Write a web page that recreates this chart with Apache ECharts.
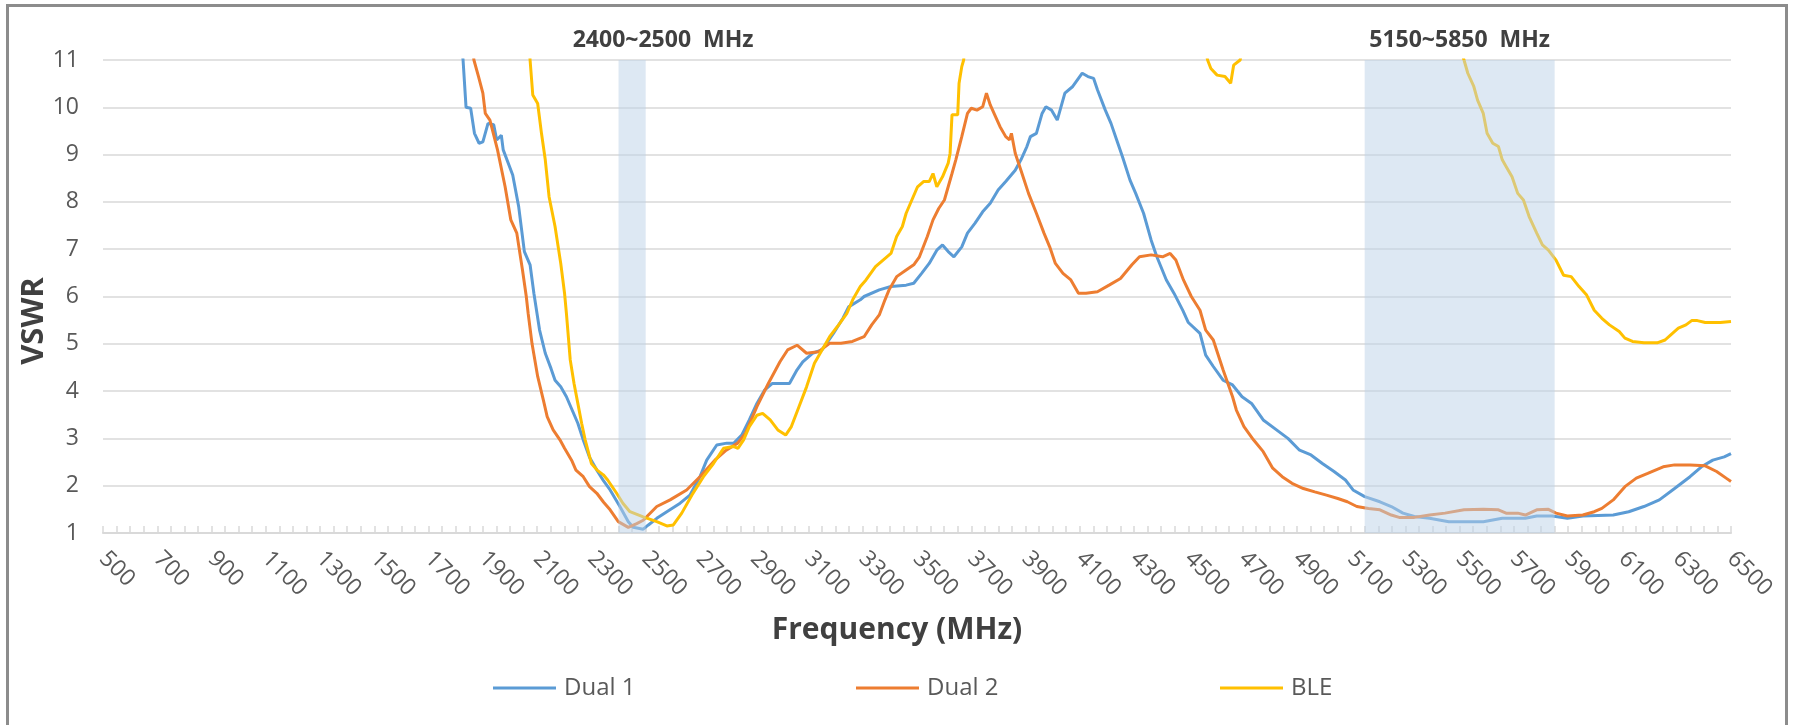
<!DOCTYPE html>
<html>
<head>
<meta charset="utf-8">
<script src="https://cdn.jsdelivr.net/npm/echarts@6/dist/echarts.min.js"></script>
<style>
  html, body { margin: 0; padding: 0; background: #ffffff; }
  #chart { position: absolute; left: 0; top: 0; width: 1799px; height: 725px; }
  #frame { position: absolute; left: 6px; top: 4px; width: 1782px; height: 740px;
           border: 3px solid #8c8c8c; pointer-events: none; box-sizing: border-box; }
</style>
</head>
<body>
<div id="chart"></div>
<div id="frame"></div>
<script>
// ---- data (MHz, VSWR) ----
const seriesNames = ['Dual 1', 'Dual 2', 'BLE'];
const seriesColors = ['#5B9BD5', '#ED7D31', '#FFC000'];

const dual1Freq = [1810,1827,1838,1855,1869,1886,1900,1919,1940,1951,1968,1975,2010,2032,2053,2074,2088,2109,2130,2151,2166,2187,2208,2229,2250,2271,2293,2320,2345,2369,2405,2436,2454,2491,2510,2541,2578,2627,2663,2700,2725,2762,2799,2825,2854,2882,2910,2938,2966,2995,3030,3058,3079,3115,3150,3192,3227,3248,3291,3305,3361,3404,3460,3488,3517,3545,3573,3594,3615,3636,3665,3686,3714,3742,3770,3799,3827,3862,3883,3905,3918,3940,3961,3975,3996,4017,4045,4074,4109,4130,4151,4165,4194,4215,4236,4257,4285,4306,4335,4363,4384,4419,4447,4480,4500,4543,4564,4592,4628,4663,4698,4733,4776,4825,4867,4910,4952,4994,5037,5079,5107,5150,5206,5248,5291,5333,5389,5460,5530,5587,5657,5742,5784,5841,5897,5954,6066,6123,6179,6236,6292,6349,6391,6433,6475,6500];
const dual1Vswr = [12.0,11.0,10.0,9.98,9.45,9.24,9.27,9.66,9.63,9.31,9.41,9.10,8.57,7.90,6.95,6.67,6.07,5.29,4.80,4.48,4.23,4.09,3.88,3.60,3.32,2.95,2.60,2.33,2.10,1.91,1.56,1.24,1.12,1.08,1.17,1.31,1.45,1.63,1.80,2.19,2.54,2.86,2.90,2.90,3.07,3.39,3.74,4.02,4.16,4.16,4.16,4.45,4.62,4.80,4.87,5.22,5.54,5.78,5.93,6.00,6.14,6.21,6.24,6.28,6.49,6.70,6.98,7.09,6.95,6.84,7.05,7.34,7.55,7.79,7.97,8.25,8.43,8.67,8.89,9.17,9.38,9.45,9.87,10.01,9.94,9.73,10.30,10.44,10.72,10.65,10.61,10.37,9.94,9.66,9.31,8.96,8.46,8.18,7.76,7.19,6.84,6.35,6.07,5.70,5.45,5.22,4.76,4.52,4.23,4.13,3.88,3.74,3.39,3.18,3.00,2.75,2.65,2.47,2.30,2.12,1.91,1.77,1.66,1.56,1.42,1.35,1.31,1.24,1.24,1.24,1.31,1.31,1.36,1.36,1.31,1.36,1.38,1.45,1.56,1.70,1.94,2.19,2.40,2.54,2.61,2.68];

const dual2Freq = [1850,1867,1884,1900,1909,1926,1954,1982,2003,2025,2046,2060,2067,2081,2102,2123,2137,2159,2184,2201,2227,2243,2270,2293,2320,2345,2369,2399,2436,2467,2491,2541,2590,2651,2700,2755,2797,2839,2868,2910,2952,2995,3023,3058,3093,3136,3178,3220,3262,3305,3333,3361,3382,3397,3425,3460,3488,3509,3538,3559,3580,3601,3615,3629,3643,3665,3686,3700,3721,3742,3756,3770,3784,3806,3827,3841,3848,3862,3883,3911,3940,3968,3989,4010,4038,4067,4095,4123,4165,4208,4250,4292,4320,4363,4405,4433,4454,4482,4511,4543,4564,4592,4628,4663,4677,4705,4740,4776,4811,4846,4882,4924,4966,5009,5051,5086,5121,5164,5206,5248,5277,5333,5389,5446,5516,5587,5643,5671,5714,5742,5784,5827,5855,5897,5954,5996,6024,6066,6109,6151,6193,6250,6292,6349,6405,6447,6482,6500];
const dual2Vswr = [12.0,11.0,10.65,10.30,9.87,9.73,9.10,8.32,7.62,7.34,6.56,6.00,5.64,5.01,4.31,3.81,3.46,3.18,2.97,2.79,2.54,2.33,2.19,1.98,1.84,1.65,1.49,1.24,1.12,1.20,1.27,1.56,1.70,1.91,2.19,2.54,2.75,2.90,3.11,3.67,4.16,4.62,4.87,4.97,4.80,4.83,5.01,5.01,5.05,5.15,5.40,5.61,5.93,6.14,6.42,6.56,6.67,6.84,7.27,7.62,7.86,8.04,8.32,8.60,8.89,9.38,9.87,9.98,9.94,10.01,10.30,10.05,9.87,9.59,9.38,9.31,9.45,9.03,8.67,8.18,7.76,7.34,7.05,6.70,6.49,6.35,6.07,6.07,6.10,6.24,6.38,6.67,6.84,6.88,6.84,6.91,6.77,6.35,6.00,5.71,5.29,5.08,4.45,3.88,3.60,3.25,2.97,2.72,2.37,2.19,2.05,1.94,1.87,1.80,1.73,1.66,1.56,1.52,1.49,1.38,1.33,1.33,1.38,1.42,1.49,1.50,1.49,1.42,1.42,1.38,1.49,1.50,1.42,1.36,1.38,1.45,1.52,1.70,1.98,2.16,2.26,2.40,2.44,2.44,2.42,2.30,2.16,2.09];

const bleFreq = [2060,2074,2084,2102,2116,2130,2144,2166,2187,2201,2208,2222,2236,2250,2264,2277,2300,2321,2344,2360,2393,2416,2442,2491,2541,2578,2602,2633,2670,2713,2750,2787,2823,2840,2861,2882,2910,2931,2959,2987,3016,3037,3065,3093,3122,3150,3178,3206,3241,3263,3291,3312,3347,3375,3404,3425,3446,3460,3481,3502,3524,3545,3559,3573,3594,3615,3622,3629,3650,3655,3665,3672,3690,4000,4300,4500,4560,4571,4583,4606,4635,4656,4667,4691,4710,5000,5300,5490,5516,5530,5552,5566,5587,5601,5622,5643,5657,5671,5693,5714,5735,5756,5784,5805,5827,5855,5883,5911,5940,5968,5996,6024,6052,6088,6109,6137,6179,6228,6257,6278,6306,6334,6355,6376,6405,6461,6500];
const bleVswr = [12.5,11.0,10.26,10.08,9.45,8.89,8.11,7.48,6.70,6.07,5.64,4.66,4.16,3.74,3.32,2.97,2.47,2.33,2.23,2.12,1.84,1.63,1.45,1.34,1.24,1.15,1.17,1.42,1.80,2.19,2.47,2.79,2.83,2.79,2.97,3.25,3.49,3.53,3.39,3.18,3.07,3.25,3.67,4.09,4.59,4.87,5.15,5.36,5.64,5.93,6.21,6.35,6.63,6.77,6.91,7.27,7.48,7.76,8.04,8.32,8.43,8.43,8.60,8.32,8.53,8.82,9.03,9.84,9.84,10.51,10.86,11.0,12.5,16.0,15.0,12.5,11.3,11.0,10.82,10.68,10.65,10.51,10.89,11.0,11.6,14.0,13.0,11.5,11.0,10.72,10.44,10.15,9.87,9.45,9.24,9.17,8.89,8.75,8.53,8.18,8.04,7.69,7.34,7.09,6.98,6.77,6.45,6.42,6.21,6.03,5.71,5.54,5.40,5.26,5.12,5.05,5.02,5.02,5.08,5.19,5.33,5.40,5.49,5.49,5.45,5.45,5.47];

const bandRanges = [[2400, 2500], [5150, 5850]];
const bandLabels = ['2400~2500  MHz', '5150~5850  MHz'];
const xRange = [500, 6500, 200];   // min, max, label step
const yRange = [1, 11, 1];

const xTitle = 'Frequency (MHz)';
const yTitle = 'VSWR';

// ---- chart ----
const FONT = '"Open Sans", "Noto Sans", sans-serif';
const pairs = (f, v) => f.map((x, i) => [x, v[i]]);
const seriesData = [pairs(dual1Freq, dual1Vswr), pairs(dual2Freq, dual2Vswr), pairs(bleFreq, bleVswr)];

const chart = echarts.init(document.getElementById('chart'), null, { renderer: 'canvas' });

const series = seriesNames.map((name, i) => ({
  name: name,
  type: 'line',
  data: seriesData[i],
  symbol: 'none',
  showSymbol: false,
  clip: true,
  lineStyle: { color: seriesColors[i], width: 3 },
  itemStyle: { color: seriesColors[i] },
  emphasis: { disabled: true },
  z: 2 + i
}));

series.push({
  name: 'bands',
  type: 'line',
  data: [],
  silent: true,
  markArea: {
    z: 10,
    silent: true,
    itemStyle: { color: 'rgba(187,210,231,0.5)', borderWidth: 0 },
    label: {
      show: true, position: 'top', distance: 8,
      color: '#404040', fontWeight: 'bold', fontSize: 23, fontFamily: FONT
    },
    data: bandRanges.map((r, i) => [
      { name: bandLabels[i], xAxis: r[0], label: { offset: [i === 0 ? 31 : 0, 0] } },
      { xAxis: r[1] }
    ])
  }
});

const legendLefts = [488, 851, 1215];

chart.setOption({
  animation: false,
  backgroundColor: '#ffffff',
  grid: { left: 103, right: 68, top: 60, bottom: 192, containLabel: false },
  legend: seriesNames.map((n, i) => ({
    data: [n],
    left: legendLefts[i],
    top: 671,
    itemWidth: 63,
    itemHeight: 14,
    icon: 'path://M0,5.5 L63,5.5 L63,8.5 L0,8.5 Z',
    textStyle: { color: '#595959', fontSize: 24, fontFamily: FONT, padding: [0, 0, 0, 3] },
    selectedMode: false
  })),
  xAxis: {
    type: 'value',
    min: xRange[0], max: xRange[1], interval: xRange[2],
    name: xTitle,
    nameLocation: 'middle',
    nameGap: 82,
    nameMoveOverlap: false,
    nameTextStyle: { color: '#404040', fontWeight: 'bold', fontSize: 30, fontFamily: FONT, padding: [0, 40, 0, 0] },
    axisLine: { show: true, lineStyle: { color: '#D9D9D9', width: 2 } },
    axisTick: { show: true, inside: true, length: 7, lineStyle: { color: '#D9D9D9', width: 1.5 } },
    minorTick: { show: true, splitNumber: 4, length: 7, lineStyle: { color: '#D9D9D9', width: 1.5 } },
    axisLabel: {
      rotate: -45, margin: 22, color: '#595959', fontSize: 23, fontFamily: FONT,
      showMaxLabel: true, showMinLabel: true,
      formatter: v => String(v)
    },
    splitLine: { show: false }
  },
  yAxis: {
    type: 'value',
    min: yRange[0], max: yRange[1], interval: yRange[2],
    name: yTitle,
    nameLocation: 'middle',
    nameGap: 53,
    nameMoveOverlap: false,
    nameRotate: 90,
    nameTextStyle: { color: '#404040', fontWeight: 'bold', fontSize: 31, fontFamily: FONT, padding: [0, 49, 0, 0] },
    axisLine: { show: false },
    axisTick: { show: false },
    axisLabel: { margin: 24, color: '#595959', fontSize: 23, fontFamily: FONT, formatter: v => String(v) },
    splitLine: { show: true, lineStyle: { color: '#D9D9D9', width: 1.5 } }
  },
  series: series
});
</script>
</body>
</html>
